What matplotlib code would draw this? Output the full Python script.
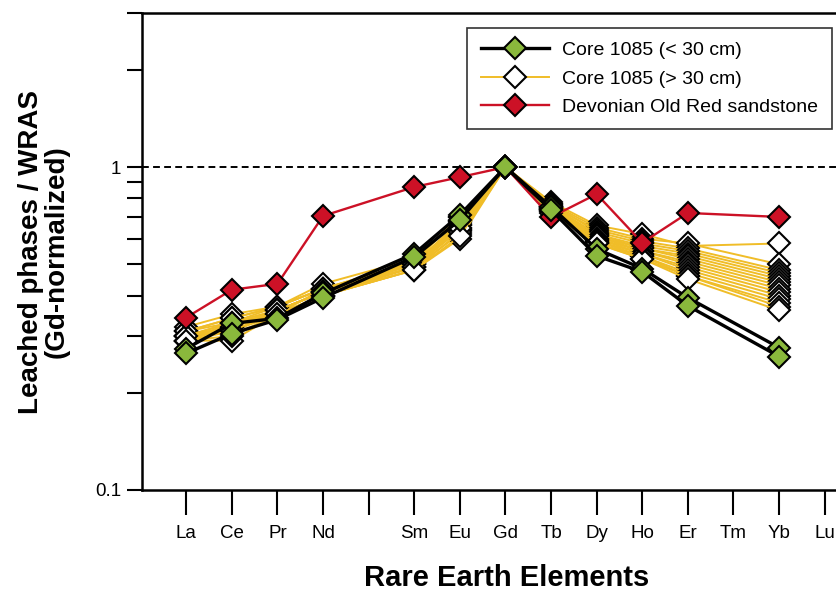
import matplotlib
matplotlib.use("Agg")
import matplotlib.pyplot as plt

plt.rcParams['font.family'] = ['Liberation Sans', 'DejaVu Sans']

# element labels on the axis (Pm has a tick slot but no label)
elements = ["La", "Ce", "Pr", "Nd", "", "Sm", "Eu", "Gd", "Tb", "Dy", "Ho", "Er", "Tm", "Yb", "Lu"]
# elements that carry data
measured = ["La", "Ce", "Pr", "Nd", "Sm", "Eu", "Gd", "Tb", "Dy", "Ho", "Er", "Yb"]

# Core 1085 (< 30 cm)
core_shallow = [
    [0.274, 0.328, 0.340, 0.406, 0.539, 0.711, 1.0, 0.753, 0.558, 0.485, 0.394, 0.276],
    [0.265, 0.305, 0.337, 0.394, 0.527, 0.686, 1.0, 0.737, 0.531, 0.474, 0.372, 0.259],
]

# Core 1085 (> 30 cm)
core_deep = [
    [0.32, 0.35, 0.37, 0.435, 0.52, 0.70, 1.0, 0.78, 0.66, 0.62, 0.57, 0.58],
    [0.31, 0.34, 0.37, 0.42, 0.51, 0.66, 1.0, 0.77, 0.65, 0.60, 0.58, 0.50],
    [0.30, 0.33, 0.36, 0.41, 0.51, 0.64, 1.0, 0.76, 0.64, 0.59, 0.56, 0.48],
    [0.31, 0.33, 0.37, 0.42, 0.50, 0.68, 1.0, 0.77, 0.63, 0.58, 0.55, 0.47],
    [0.30, 0.32, 0.36, 0.41, 0.50, 0.65, 1.0, 0.75, 0.62, 0.57, 0.54, 0.46],
    [0.29, 0.33, 0.35, 0.42, 0.51, 0.70, 1.0, 0.76, 0.62, 0.56, 0.53, 0.45],
    [0.30, 0.32, 0.36, 0.41, 0.49, 0.66, 1.0, 0.74, 0.61, 0.56, 0.52, 0.44],
    [0.31, 0.34, 0.37, 0.42, 0.50, 0.68, 1.0, 0.75, 0.61, 0.55, 0.51, 0.43],
    [0.29, 0.31, 0.35, 0.40, 0.49, 0.62, 1.0, 0.74, 0.60, 0.55, 0.50, 0.42],
    [0.30, 0.32, 0.36, 0.41, 0.50, 0.67, 1.0, 0.75, 0.60, 0.54, 0.49, 0.41],
    [0.29, 0.29, 0.35, 0.40, 0.48, 0.60, 1.0, 0.73, 0.59, 0.54, 0.48, 0.40],
    [0.30, 0.33, 0.36, 0.41, 0.49, 0.64, 1.0, 0.74, 0.59, 0.53, 0.47, 0.39],
    [0.29, 0.32, 0.35, 0.40, 0.48, 0.63, 1.0, 0.73, 0.58, 0.53, 0.46, 0.38],
    [0.30, 0.31, 0.36, 0.41, 0.49, 0.65, 1.0, 0.74, 0.58, 0.52, 0.46, 0.37],
    [0.29, 0.30, 0.35, 0.40, 0.48, 0.61, 1.0, 0.72, 0.58, 0.52, 0.45, 0.36],
]

# Devonian Old Red sandstone
devonian = [0.342, 0.417, 0.435, 0.706, 0.868, 0.931, 1.0, 0.70, 0.825, 0.583, 0.721, 0.701]

yticks = [0.1, 0.2, 0.3, 0.4, 0.5, 0.6, 0.7, 0.8, 0.9, 1, 2, 3]
ytick_labels = ["0.1", "", "", "", "", "", "", "", "", "1", "", ""]

green = "#8ab83c"
yellow = "#f0bd28"
red = "#cc1126"

xpos = {el: i + 1 for i, el in enumerate(elements) if el}
x_data = [xpos[e] for e in measured]

fig = plt.figure(figsize=(8.37, 5.96), dpi=100)
ax = fig.add_axes([0.1697, 0.178, 0.870, 0.800])

mk = dict(marker="D", markersize=11.5, markeredgecolor="black", markeredgewidth=1.5)

for i, row in enumerate(core_deep):
    ax.plot(x_data, row, color=yellow, lw=1.4, markerfacecolor="white",
            label="Core 1085 (> 30 cm)" if i == 0 else None, zorder=2, **mk)

ax.plot(x_data, devonian, color=red, lw=1.7, markerfacecolor=red,
        label="Devonian Old Red sandstone", zorder=3, **mk)

for i, row in enumerate(core_shallow):
    ax.plot(x_data, row, color="black", lw=2.4, markerfacecolor=green,
            label="Core 1085 (< 30 cm)" if i == 0 else None, zorder=4, **mk)

ax.axhline(1, color="black", lw=1.4, dashes=(3.5, 2.2), zorder=1)

ax.set_yscale("log")
ax.set_ylim(0.1, 3)
ax.set_xlim(0.03, 16)
ax.set_yticks(yticks)
ax.set_yticklabels(ytick_labels)
ax.minorticks_off()
ax.set_xticks(range(1, len(elements) + 1))
ax.set_xticklabels(elements)

ax.tick_params(axis="x", direction="out", length=18, width=1.5, pad=7, labelsize=13.5)
ax.tick_params(axis="y", direction="out", length=11, width=1.5, pad=4, labelsize=13.5)
for s in ax.spines.values():
    s.set_linewidth(1.8)

ax.set_xlabel("Rare Earth Elements", fontsize=21, fontweight="bold", labelpad=16)
ax.set_ylabel("Leached phases / WRAS\n(Gd-normalized)", fontsize=20, fontweight="bold",
              labelpad=18, linespacing=1.0)

h, l = ax.get_legend_handles_labels()
order = [l.index("Core 1085 (< 30 cm)"), l.index("Core 1085 (> 30 cm)"),
         l.index("Devonian Old Red sandstone")]
leg = ax.legend([h[k] for k in order], [l[k] for k in order],
                loc="upper right", bbox_to_anchor=(832 / 837, 1 - 28 / 596),
                bbox_transform=fig.transFigure, borderaxespad=0, fontsize=14,
                fancybox=False, edgecolor="#333333", framealpha=1, handlelength=3.5,
                borderpad=0.7, labelspacing=0.55, handletextpad=0.7)
leg.get_frame().set_linewidth(1.2)

fig.savefig("out.png", dpi=100)
